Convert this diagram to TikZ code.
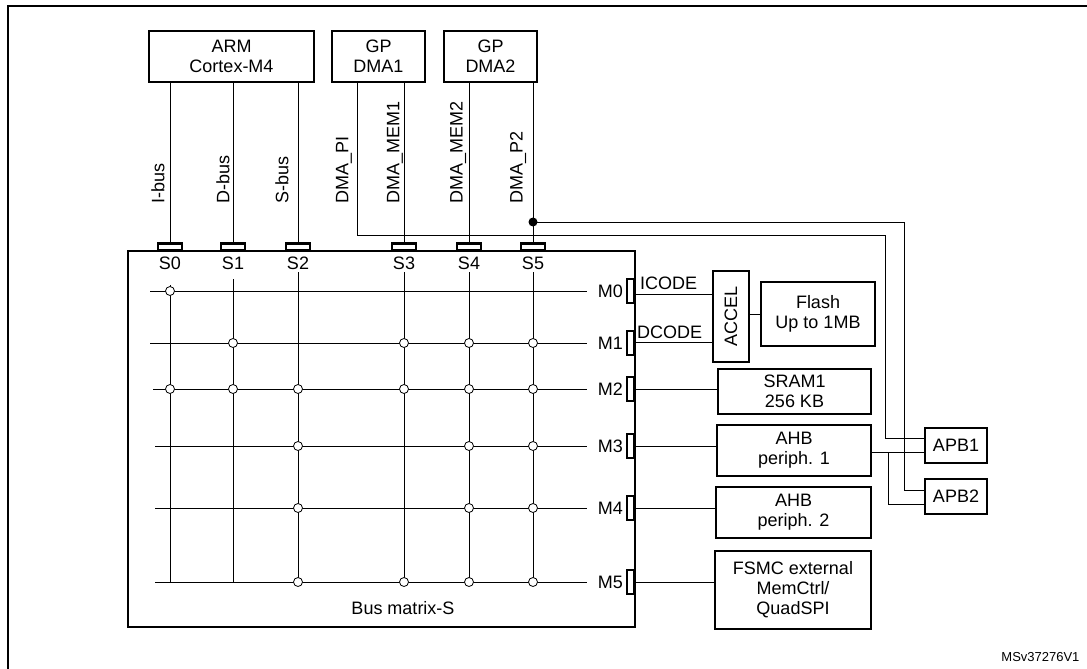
\documentclass[tikz,border=0pt]{standalone}
\usepackage{fontspec}
\setmainfont{Liberation Sans}
\begin{document}
\begin{tikzpicture}[x=1pt,y=-1pt,
  box/.style={draw,line width=2.6pt,inner sep=0pt,align=center,font=\fontsize{18}{20}\selectfont},
  wire/.style={line width=1pt},
  lbl/.style={font=\fontsize{18}{20}\selectfont,inner sep=0pt},
  vl/.style={lbl,rotate=90,anchor=west},
  port/.style={draw,line width=2.2pt,fill=white,inner sep=0pt},
  sw/.style={circle,draw,fill=white,line width=0.8pt,minimum size=9pt,inner sep=0pt}]
\useasboundingbox (0,0) rectangle (1087,669);
\draw[line width=2.5pt] (8,669) -- (8,6) -- (1087,6);
% top masters
\node[box,minimum width=165pt,minimum height=51pt] (arm) at (231.5,56.5) {ARM\\Cortex-M4};
\node[box,minimum width=93pt,minimum height=51pt] (dma1) at (378.5,56.5) {GP\\DMA1};
\node[box,minimum width=93pt,minimum height=51pt] (dma2) at (490.5,56.5) {GP\\DMA2};
% matrix
\node[draw,line width=2.6pt,minimum width=507pt,minimum height=376pt,inner sep=0pt] (bm) at (381.5,439) {};
\node[lbl] (bml) at (403,608) {Bus matrix-S};
% slave ports
\foreach \n/\x in {0/170,1/233,2/298,3/404,4/469,5/533}{
  \node[port,minimum width=24pt,minimum height=7pt] (s\n) at (\x,247) {};
  \node[lbl] (sl\n) at (\x,263) {S\n};
}
% master ports
\foreach \n/\y in {0/291,1/343,2/389,3/446,4/508,5/582}{
  \node[port,minimum width=7pt,minimum height=24pt] (m\n) at (630.5,\y) {};
  \node[lbl,anchor=east] (ml\n) at (623,\y) {M\n};
  \coordinate (r\n) at (587,\y);
}
% matrix grid
\foreach \n/\y/\x in {0/291/150,1/343/150,2/389/153,3/446/155,4/508/155,5/582/155}
  \draw[wire] (\x,\y) -- (r\n);
\foreach \n/\x/\t in {0/170/285,1/233/279,2/298/272,3/404/272,4/469/272,5/533/272}
  \draw[wire] (\x,\t) -- (\x,582);
\foreach \x/\y in {170/291, 233/343,404/343,469/343,533/343,
  170/389,233/389,298/389,404/389,469/389,533/389,
  298/446,469/446,533/446, 298/508,469/508,533/508, 298/582,404/582,469/582,533/582}
  \node[sw] at (\x,\y) {};
% buses from masters
\draw[wire] (arm.south -| s0) -- (s0);
\draw[wire] (arm.south -| s1) -- (s1);
\draw[wire] (arm.south -| s2) -- (s2);
\draw[wire] (dma1.south -| s3) -- (s3);
\draw[wire] (dma2.south -| s4) -- (s4);
\draw[wire] (dma2.south -| s5) -- (s5);
\node[vl] (lib) at (158,204) {I-bus};
\node[vl] (ldb) at (223,204) {D-bus};
\node[vl] (lsb) at (282,204) {S-bus};
\node[vl] (lpi) at (344,204) {DMA\_PI};
\node[vl] (lm1) at (395,204) {DMA\_MEM1};
\node[vl] (lm2) at (458,204) {DMA\_MEM2};
\node[vl] (lp2) at (518,204) {DMA\_P2};
% right side slaves
\node[box,minimum width=36pt,minimum height=91pt] (accel) at (731,316.5) {};
\node[lbl,rotate=90] (accl) at (731,316.5) {ACCEL};
\node[box,minimum width=114pt,minimum height=64pt] (flash) at (818,314) {Flash\\Up to 1MB};
\node[box,minimum width=153pt,minimum height=45pt] (sram) at (794.5,391.5) {SRAM1\\256 KB};
\node[box,minimum width=154pt,minimum height=51pt] (ahb1) at (794,450.5) {AHB\\periph. 1};
\node[box,minimum width=155pt,minimum height=51pt] (ahb2) at (793.5,512.5) {AHB\\periph. 2};
\node[box,minimum width=156pt,minimum height=78pt] (fsmc) at (793,590) {FSMC external\\MemCtrl/\\QuadSPI};
\node[box,minimum width=62pt,minimum height=35pt] (apb1) at (956,445.5) {APB1};
\node[box,minimum width=62pt,minimum height=35pt] (apb2) at (956,496.5) {APB2};
\draw[wire] (634,294) -- (accel.west |- 0,294);
\draw[wire] (634,342) -- (accel.west |- 0,342);
\node[lbl,anchor=south west] (ic) at (640,290) {ICODE};
\node[lbl,anchor=south west] (dc) at (637,339) {DCODE};
\draw[wire] (accel.east |- flash.west) -- (flash.west);
\draw[wire] (m2.east) -- (sram.west |- m2);
\draw[wire] (m3.east) -- (ahb1.west |- m3);
\draw[wire] (m4.east) -- (ahb2.west |- m4);
\draw[wire] (m5.east) -- (fsmc.west |- m5);
\draw[wire] (ahb1.east |- 0,452) -- (apb1.west |- 0,452);
\draw[wire] (888,452) -- (888,504) -- (apb2.west |- 0,504);
% DMA peripheral buses
\coordinate (dot) at (533,222);
\fill (dot) circle (4.5pt);
\draw[wire] (dma1.south -| 357,0) -- (357,235) -- (885,235) -- (885,438) -- (apb1.west |- 0,438);
\draw[wire] (dot) -- (904,222) -- (904,490) -- (apb2.west |- 0,490);
\node[font=\fontsize{13}{15}\selectfont,anchor=east] (id) at (1083,657) {MSv37276V1};
\end{tikzpicture}
\end{document}
